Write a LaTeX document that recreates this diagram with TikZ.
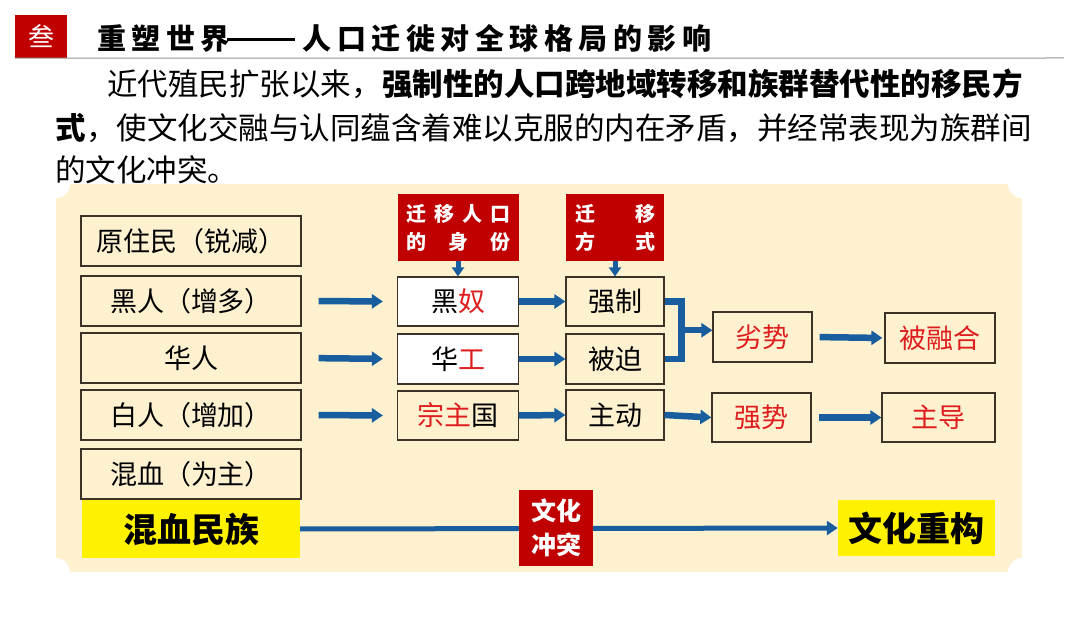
\documentclass[tikz,border=0pt]{standalone}
\usepackage{fontspec}
\setmainfont{Noto Sans CJK SC}
\usetikzlibrary{arrows.meta,calc}
\definecolor{cream}{RGB}{253,241,208}
\definecolor{dred}{RGB}{192,0,0}
\definecolor{tred}{RGB}{222,30,30}
\definecolor{ablue}{RGB}{24,94,158}
\definecolor{bord}{RGB}{60,50,40}
\definecolor{uline}{RGB}{150,150,150}
\begin{document}
\begin{tikzpicture}[x=1pt,y=-1pt,
  box/.style={draw=bord,line width=1.2pt,fill=cream,inner sep=0pt,font=\fontsize{27}{27}\selectfont},
  wbox/.style={box,fill=white},
  rbox/.style={fill=dred,text=white,inner sep=0pt,font=\bfseries\fontsize{20}{28}\selectfont,align=center},
  ybox/.style={fill=yellow,inner sep=0pt,font=\bfseries\fontsize{34}{34}\selectfont},
  arr/.style={draw=ablue,line width=6.5pt,-{Triangle[length=11pt,width=14pt]}},
  ln/.style={draw=ablue,line width=6.5pt},
  para/.style={inner sep=0pt,anchor=west,font=\fontsize{30.5}{30.5}\selectfont},
]
\useasboundingbox (0,0) rectangle (1080,620);
\fill[white] (0,0) rectangle (1080,620);

% panel
\fill[cream] (56,184) rectangle (1022,572);
\foreach \cx/\cy in {56/184,1022/184,56/572,1022/572}
  \fill[white] (\cx,\cy) circle (14);

% header
\node[fill=dred,text=white,minimum width=52pt,minimum height=43pt,inner sep=0pt,font=\fontsize{26}{26}\selectfont] (san) at (41,36.5) {叁};
\node[inner sep=0pt,anchor=base west,font=\bfseries\fontsize{29}{29}\selectfont\addfontfeatures{LetterSpace=19}] (title) at (97,50) {重塑世界\kern-3pt\rule[9pt]{68pt}{2.6pt}\kern8pt 人口迁徙对全球格局的影响};
\draw[uline,line width=1pt] (san.south west) -- (1064,58);

% paragraph
\node[para] (p1a) at (107,84) {近代殖民扩张以来，};
\node[para,font=\bfseries\fontsize{30.5}{30.5}\selectfont] (p1b) at (p1a.east) {强制性的人口跨地域转移和族群替代性的移民方};
\node[para,font=\bfseries\fontsize{30.5}{30.5}\selectfont] (p2a) at (55,128) {式};
\node[para] (p2b) at (p2a.east) {，使文化交融与认同蕴含着难以克服的内在矛盾，并经常表现为族群间};
\node[para] (p3) at (55,170) {的文化冲突。};

% left column
\node[box,minimum width=220pt,minimum height=50pt] (yz) at (191,241) {原住民（锐减）};
\node[box,minimum width=220pt,minimum height=50pt] (hr) at (191,301) {黑人（增多）};
\node[box,minimum width=220pt,minimum height=50pt] (hua) at (191,358) {华人};
\node[box,minimum width=220pt,minimum height=50pt] (br) at (191,415) {白人（增加）};
\node[box,minimum width=220pt,minimum height=50pt] (hx) at (191,474) {混血（为主）};
\node[ybox,minimum width=218pt,minimum height=58pt] (hxmz) at (191,529) {混血民族};

% middle column
\node[rbox,minimum width=121pt,minimum height=67pt] (sf) at (458,227.5) {\makebox[104pt]{迁\hfill 移\hfill 人\hfill 口}\\\makebox[104pt]{的\hfill 身\hfill 份}};
\node[wbox,minimum width=121pt,minimum height=49pt] (hn) at (458,301.5) {黑{\color{tred}奴}};
\node[wbox,minimum width=121pt,minimum height=50pt] (hg) at (458,359) {华{\color{tred}工}};
\node[box,minimum width=121pt,minimum height=49pt] (zzg) at (458,415.5) {{\color{tred}宗主}国};

% third column
\node[rbox,minimum width=98pt,minimum height=67pt] (fs) at (615,227.5) {\makebox[80pt]{迁\hfill 移}\\\makebox[80pt]{方\hfill 式}};
\node[box,minimum width=98pt,minimum height=49pt] (qz) at (615,301.5) {强制};
\node[box,minimum width=98pt,minimum height=50pt] (bp) at (615,359) {被迫};
\node[box,minimum width=98pt,minimum height=50pt] (zd) at (615,415) {主动};

% fourth / fifth columns
\node[box,minimum width=99pt,minimum height=50pt,text=tred] (ls) at (762.5,337) {劣势};
\node[box,minimum width=99pt,minimum height=49pt,text=tred] (qs) at (761.5,417.5) {强势};
\node[box,minimum width=110pt,minimum height=50pt,text=tred] (brh) at (940,338) {被融合};
\node[box,minimum width=113pt,minimum height=49pt,text=tred] (zdao) at (938.5,417.5) {主导};

% bottom row
\node[ybox,minimum width=157pt,minimum height=56pt] (whcg) at (916.5,528) {文化重构};
\draw[arr,line width=5pt] (hxmz.east) -- (whcg.west);
\node[rbox,minimum width=74pt,minimum height=76pt,font=\bfseries\fontsize{25}{34}\selectfont] (whct) at (556,528) {文化\\冲突};

% arrows: left -> middle
\draw[arr,shorten <=17pt,shorten >=14pt] (hr.east) -- (hn.west);
\draw[arr,shorten <=17pt,shorten >=14pt] (hua.east) -- (hg.west);
\draw[arr,shorten <=17pt,shorten >=14pt] (br.east) -- (zzg.west);

% down arrows
\draw[arr,line width=5pt,-{Triangle[length=9pt,width=12pt]}] (sf.south) -- (hn.north);
\draw[arr,line width=5pt,-{Triangle[length=9pt,width=12pt]}] (fs.south) -- (qz.north);

% middle -> third
\draw[arr] (hn.east) -- (qz.west);
\draw[arr] (hg.east) -- (bp.west);
\draw[arr] (zzg.east) -- (zd.west);

% bracket
\draw[ln] (qz.east) -- ++(17,0) coordinate (b1) |- (bp.east);
\coordinate (bm) at ($(b1)!0.5!(b1|-bp.east)$);
\draw[arr] (bm) -- (bm-|ls.west);

% right arrows
\draw[arr] (zd.east) -- (qs.west);
\draw[arr,shorten <=7pt,shorten >=2pt] (ls.east) -- (brh.west);
\draw[arr,shorten <=7pt] (qs.east) -- (zdao.west);
\end{tikzpicture}
\end{document}
